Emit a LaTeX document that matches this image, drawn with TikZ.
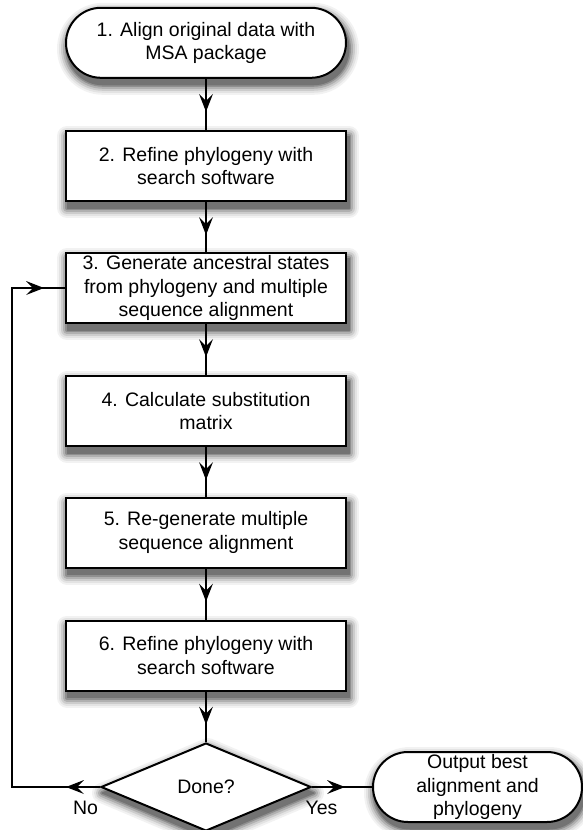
\documentclass[tikz,border=0pt]{standalone}
\usepackage{fontspec}
\setmainfont{Liberation Sans}
\usetikzlibrary{shapes.geometric, decorations.markings, calc, backgrounds}
\newcommand\fgtipshape{\fill (0pt,0pt) -- (-18pt,7pt) -- (-11pt,0pt) -- (-18pt,-7pt) -- cycle;}
\newcommand\shadowlayers{20/5,16/11,12/20,8/31,4/44,1/55}
\newcommand\boxshadow[2]{%
  \foreach \shw/\shc in \shadowlayers {
    \filldraw[black!\shc, line width=\shw pt, line join=round, rounded corners=#2]
      ($(#1.south west)+(2,6)$) rectangle ($(#1.north east)+(2,6)$);
  }}
\newcommand\diamondshadow[1]{%
  \foreach \shw/\shc in \shadowlayers {
    \filldraw[black!\shc, line width=\shw pt, line join=round]
      ($(#1.north)+(2,6)$) -- ($(#1.east)+(2,6)$) -- ($(#1.south)+(2,6)$) -- ($(#1.west)+(2,6)$) -- cycle;
  }}
\begin{document}
\begin{tikzpicture}[x=1pt,y=-1pt,
  txt/.style={font=\fontsize{19.5pt}{23.5pt}\selectfont, align=center},
  stepbox/.style={txt, draw, line width=2pt, fill=white, minimum width=280pt, minimum height=70pt, inner sep=0pt},
  term/.style={stepbox, rounded corners=35pt},
  decision/.style={txt, draw, diamond, line width=2pt, fill=white, minimum width=210pt, minimum height=88pt, inner sep=0pt},
  conn/.style={line width=1.4pt},
  midarrow/.style={postaction={decorate}, decoration={markings, mark=at position 33pt with {\fgtipshape}}},
  lbl/.style={txt, inner sep=0pt, anchor=base}
]
\useasboundingbox (0,0) rectangle (583,830);

\node[term] (t1) at (206,42.8) {1. Align original data with\\MSA package};
\node[stepbox] (b2) at (206,166) {2. Refine phylogeny with\\search software};
\node[stepbox] (b3) at (206,288) {3. Generate ancestral states\\from phylogeny and multiple\\sequence alignment};
\node[stepbox] (b4) at (206,411) {4. Calculate substitution\\matrix};
\node[stepbox] (b5) at (206,532.5) {5. Re-generate multiple\\sequence alignment};
\node[stepbox] (b6) at (206,655.5) {6. Refine phylogeny with\\search software};
\node[decision] (d) at (206,787) {Done?};
\node[term, minimum width=209pt] (t2) at (477.5,787) {Output best\\alignment and\\phylogeny};

\begin{scope}[on background layer]
  \boxshadow{t1}{36pt}
  \boxshadow{b2}{0pt}
  \boxshadow{b3}{0pt}
  \boxshadow{b4}{0pt}
  \boxshadow{b5}{0pt}
  \boxshadow{b6}{0pt}
  \boxshadow{t2}{36pt}
  \diamondshadow{d}
\end{scope}

\node[lbl] (no) at (85.5,814) {No};
\node[lbl] (yes) at (321.5,814) {Yes};

\coordinate (fb) at (12,787);

\draw[conn, midarrow] (t1) -- (b2);
\draw[conn, midarrow] (b2) -- (b3);
\draw[conn, midarrow] (b3) -- (b4);
\draw[conn, midarrow] (b4) -- (b5);
\draw[conn, midarrow] (b5) -- (b6);
\draw[conn, midarrow] (b6) -- (d);
\draw[conn, midarrow] (d.east) -- (t2);
\draw[conn, postaction={decorate}, decoration={markings,
    mark=at position 34pt with {\fgtipshape},
    mark=at position -21pt with {\fgtipshape}}]
  (d.west) -- (fb) |- (b3.west);
\end{tikzpicture}
\end{document}
